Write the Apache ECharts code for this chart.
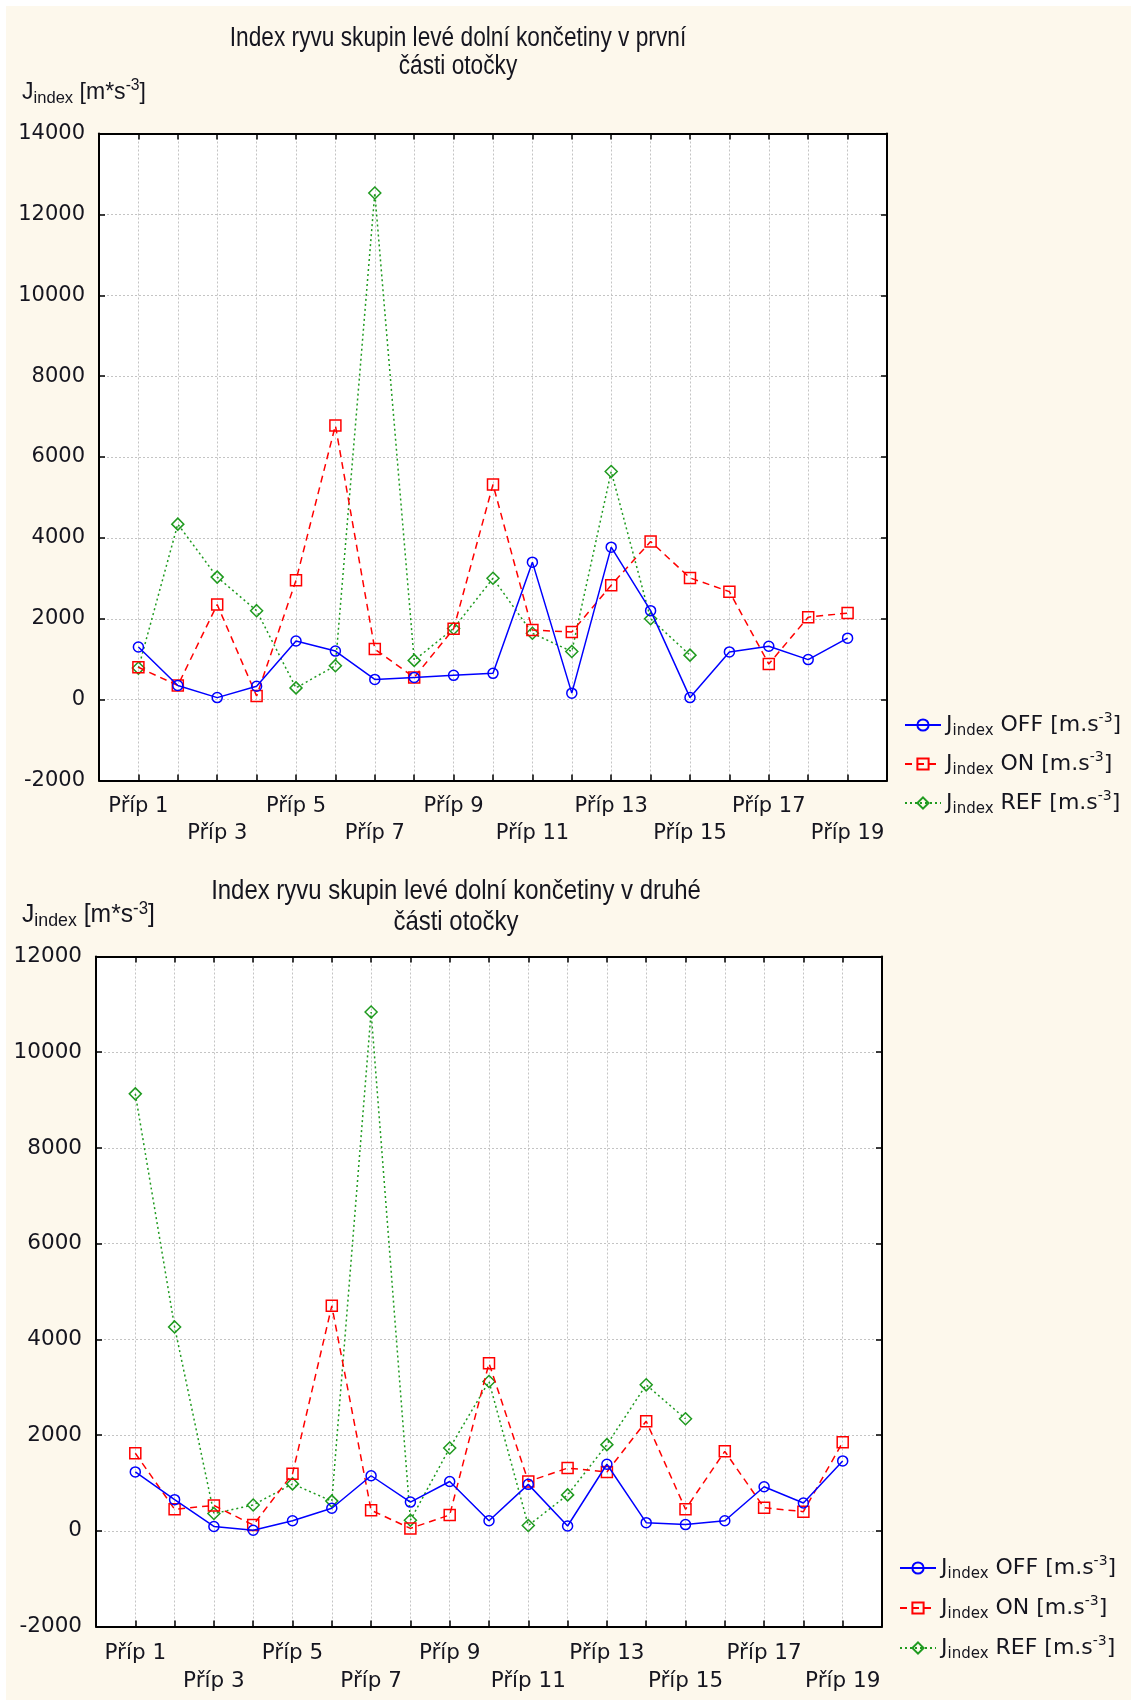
<!DOCTYPE html>
<html>
<head>
<meta charset="utf-8">
<script src="https://cdn.jsdelivr.net/npm/echarts@6/dist/echarts.min.js"></script>
<style>
html,body{margin:0;padding:0;background:#ffffff;}
#bg{position:absolute;left:6px;top:6px;width:1125px;height:1694px;background:#fdf8ec;}
#chart{position:absolute;left:0;top:0;width:1137px;height:1702px;}
</style>
</head>
<body>
<div id="bg"></div>
<div id="chart"></div>
<script>
// ---- data ----
var categories = ['Příp 1','Příp 2','Příp 3','Příp 4','Příp 5','Příp 6','Příp 7','Příp 8','Příp 9','Příp 10',
                  'Příp 11','Příp 12','Příp 13','Příp 14','Příp 15','Příp 16','Příp 17','Příp 18','Příp 19'];
var seriesNames = ['OFF', 'ON', 'REF'];
var title1 = 'Index ryvu skupin levé dolní končetiny v první\nčásti otočky';
var title2 = 'Index ryvu skupin levé dolní končetiny v druhé\nčásti otočky';
var yTicks1 = [-2000, 0, 2000, 4000, 6000, 8000, 10000, 12000, 14000];
var yTicks2 = [-2000, 0, 2000, 4000, 6000, 8000, 10000, 12000];

var off1 = [1300, 350, 50, 330, 1450, 1200, 500, 550, 600, 650, 3400, 160, 3770, 2200, 50, 1180, 1320, 990, 1520];
var on1  = [800, 350, 2350, 90, 2950, 6780, 1250, 550, 1750, 5320, 1720, 1670, 2830, 3910, 3010, 2670, 880, 2040, 2140];
var ref1 = [780, 4340, 3030, 2200, 290, 840, 12530, 970, 1760, 3000, 1640, 1190, 5640, 2000, 1100];

var off2 = [1230, 650, 90, 10, 210, 470, 1150, 600, 1030, 210, 970, 100, 1390, 170, 130, 210, 920, 580, 1460];
var on2  = [1620, 450, 530, 120, 1190, 4700, 430, 50, 330, 3500, 1030, 1310, 1230, 2290, 450, 1660, 480, 400, 1850];
var ref2 = [9130, 4260, 360, 540, 980, 620, 10840, 220, 1730, 3120, 110, 750, 1800, 3050, 2340];

// ---- styles ----
var TXT = '#15151f';
var ARIAL = "'Liberation Sans',Arial,sans-serif";
var SANS = "'DejaVu Sans',sans-serif";
var styles = {
  OFF: {color: '#0000ff', type: 'solid', symbol: 'circle', size: 10},
  ON:  {color: '#ff0000', type: [7, 5], symbol: 'rect', size: 11},
  REF: {color: '#1f9a1f', type: [2, 3], symbol: 'diamond', size: 12}
};

function toPts(arr) { return arr.map(function (v, i) { return [i + 1, v]; }); }

function xLabel(fs, lh, mg) {
  return {
    fontFamily: SANS, fontSize: fs, color: TXT, lineHeight: lh, margin: mg,
    formatter: function (v) {
      if (v < 1 || v > categories.length || v % 2 === 0) return '';
      var t = categories[v - 1];
      return (v % 4 === 3) ? '\n' + t : t;
    }
  };
}

function makeAxes(gi, ticks, fs, lh, mg) {
  var axisLine = {show: true, onZero: false, lineStyle: {color: '#000', width: 2}};
  var tick = {show: true, inside: true, length: 6, lineStyle: {color: '#000', width: 1.5}};
  var grid = {show: true, lineStyle: {color: '#c4c4c4', type: [2, 2], width: 1}};
  var n = categories.length + 1;
  var xs = [
    {gridIndex: gi, type: 'value', min: 0, max: n, interval: 1, position: 'bottom',
     axisLine: axisLine, axisTick: tick, splitLine: grid, axisLabel: xLabel(fs, lh, mg)},
    {gridIndex: gi, type: 'value', min: 0, max: n, interval: 1, position: 'top',
     axisLine: axisLine, axisTick: tick, splitLine: {show: false}, axisLabel: {show: false}}
  ];
  var ymin = ticks[0], ymax = ticks[ticks.length - 1], step = ticks[1] - ticks[0];
  var ys = [
    {gridIndex: gi, type: 'value', min: ymin, max: ymax, interval: step, position: 'left',
     axisLine: axisLine, axisTick: tick, splitLine: grid,
     axisLabel: {fontFamily: SANS, fontSize: fs, color: TXT, margin: 14,
                 formatter: function (v) { return String(v); }}},
    {gridIndex: gi, type: 'value', min: ymin, max: ymax, interval: step, position: 'right',
     axisLine: axisLine, axisTick: tick, splitLine: {show: false}, axisLabel: {show: false}}
  ];
  return {xs: xs, ys: ys};
}

function makeSeries(name, arr, xi, yi) {
  var s = styles[name];
  return {
    name: name, type: 'line', xAxisIndex: xi, yAxisIndex: yi, data: toPts(arr),
    symbol: s.symbol, symbolSize: s.size, showAllSymbol: true,
    lineStyle: {color: s.color, width: 1.5, type: s.type},
    itemStyle: {color: 'rgba(255,255,255,0)', borderColor: s.color, borderWidth: 1.5},
    emphasis: {disabled: true}, animation: false, z: name === 'OFF' ? 4 : (name === 'ON' ? 3 : 2)
  };
}

var legendRich = {
  sub: {fontFamily: SANS, fontSize: 15, lineHeight: 14, verticalAlign: 'bottom', color: TXT},
  sup: {fontFamily: SANS, fontSize: 14, lineHeight: 14, verticalAlign: 'top', color: TXT}
};
function makeLegend(left, top, gap) {
  return {
    orient: 'vertical', left: left, top: top, itemGap: gap, itemWidth: 36, itemHeight: 14,
    data: seriesNames, selectedMode: false,
    formatter: function (nm) { return 'J{sub|index} ' + nm + ' [m.s{sup|-3}]'; },
    textStyle: {fontFamily: SANS, fontSize: 22, color: TXT, lineHeight: 28, rich: legendRich}
  };
}

function unitLabel(x, y, fs, sx) {
  return {
    type: 'text', x: x, y: y, silent: true, scaleX: sx,
    style: {
      text: 'J{sub|index} [m*s{sup|-3}]', fontFamily: ARIAL, fontSize: fs, fill: TXT,
      verticalAlign: 'middle', align: 'left', lineHeight: 30,
      rich: {
        sub: {fontFamily: ARIAL, fontSize: fs * 0.72, lineHeight: 16, verticalAlign: 'bottom', fill: TXT},
        sup: {fontFamily: ARIAL, fontSize: fs * 0.68, lineHeight: 14, verticalAlign: 'top', fill: TXT}
      }
    }
  };
}
function titleText(x, y, txt, fs, lh, sx) {
  return {
    type: 'text', x: x, y: y, silent: true, scaleX: sx,
    style: {text: txt, fontFamily: ARIAL, fontSize: fs, fill: TXT, align: 'center',
            verticalAlign: 'top', lineHeight: lh}
  };
}

var a1 = makeAxes(0, yTicks1, 21, 27, 13);
var a2 = makeAxes(1, yTicks2, 21.5, 28, 13);

var option = {
  animation: false,
  backgroundColor: 'transparent',
  grid: [
    {left: 99, top: 133.5, width: 788, height: 647, show: true, backgroundColor: '#ffffff', borderWidth: 0},
    {left: 96, top: 956.5, width: 786, height: 670, show: true, backgroundColor: '#ffffff', borderWidth: 0}
  ],
  xAxis: [a1.xs[0], a1.xs[1], a2.xs[0], a2.xs[1]],
  yAxis: [a1.ys[0], a1.ys[1], a2.ys[0], a2.ys[1]],
  legend: [makeLegend(899, 706, 11), makeLegend(894, 1549, 12)],
  graphic: [
    titleText(458, 25, title1, 27, 28, 0.84),
    titleText(456, 876, title2, 28, 31, 0.855),
    unitLabel(22, 92, 24, 0.96),
    unitLabel(22, 915, 26, 0.95)
  ],
  series: [
    makeSeries('OFF', off1, 0, 0),
    makeSeries('ON', on1, 0, 0),
    makeSeries('REF', ref1, 0, 0),
    makeSeries('OFF', off2, 2, 2),
    makeSeries('ON', on2, 2, 2),
    makeSeries('REF', ref2, 2, 2)
  ]
};

var chart = echarts.init(document.getElementById('chart'), null, {renderer: 'canvas'});
chart.setOption(option);
</script>
</body>
</html>
